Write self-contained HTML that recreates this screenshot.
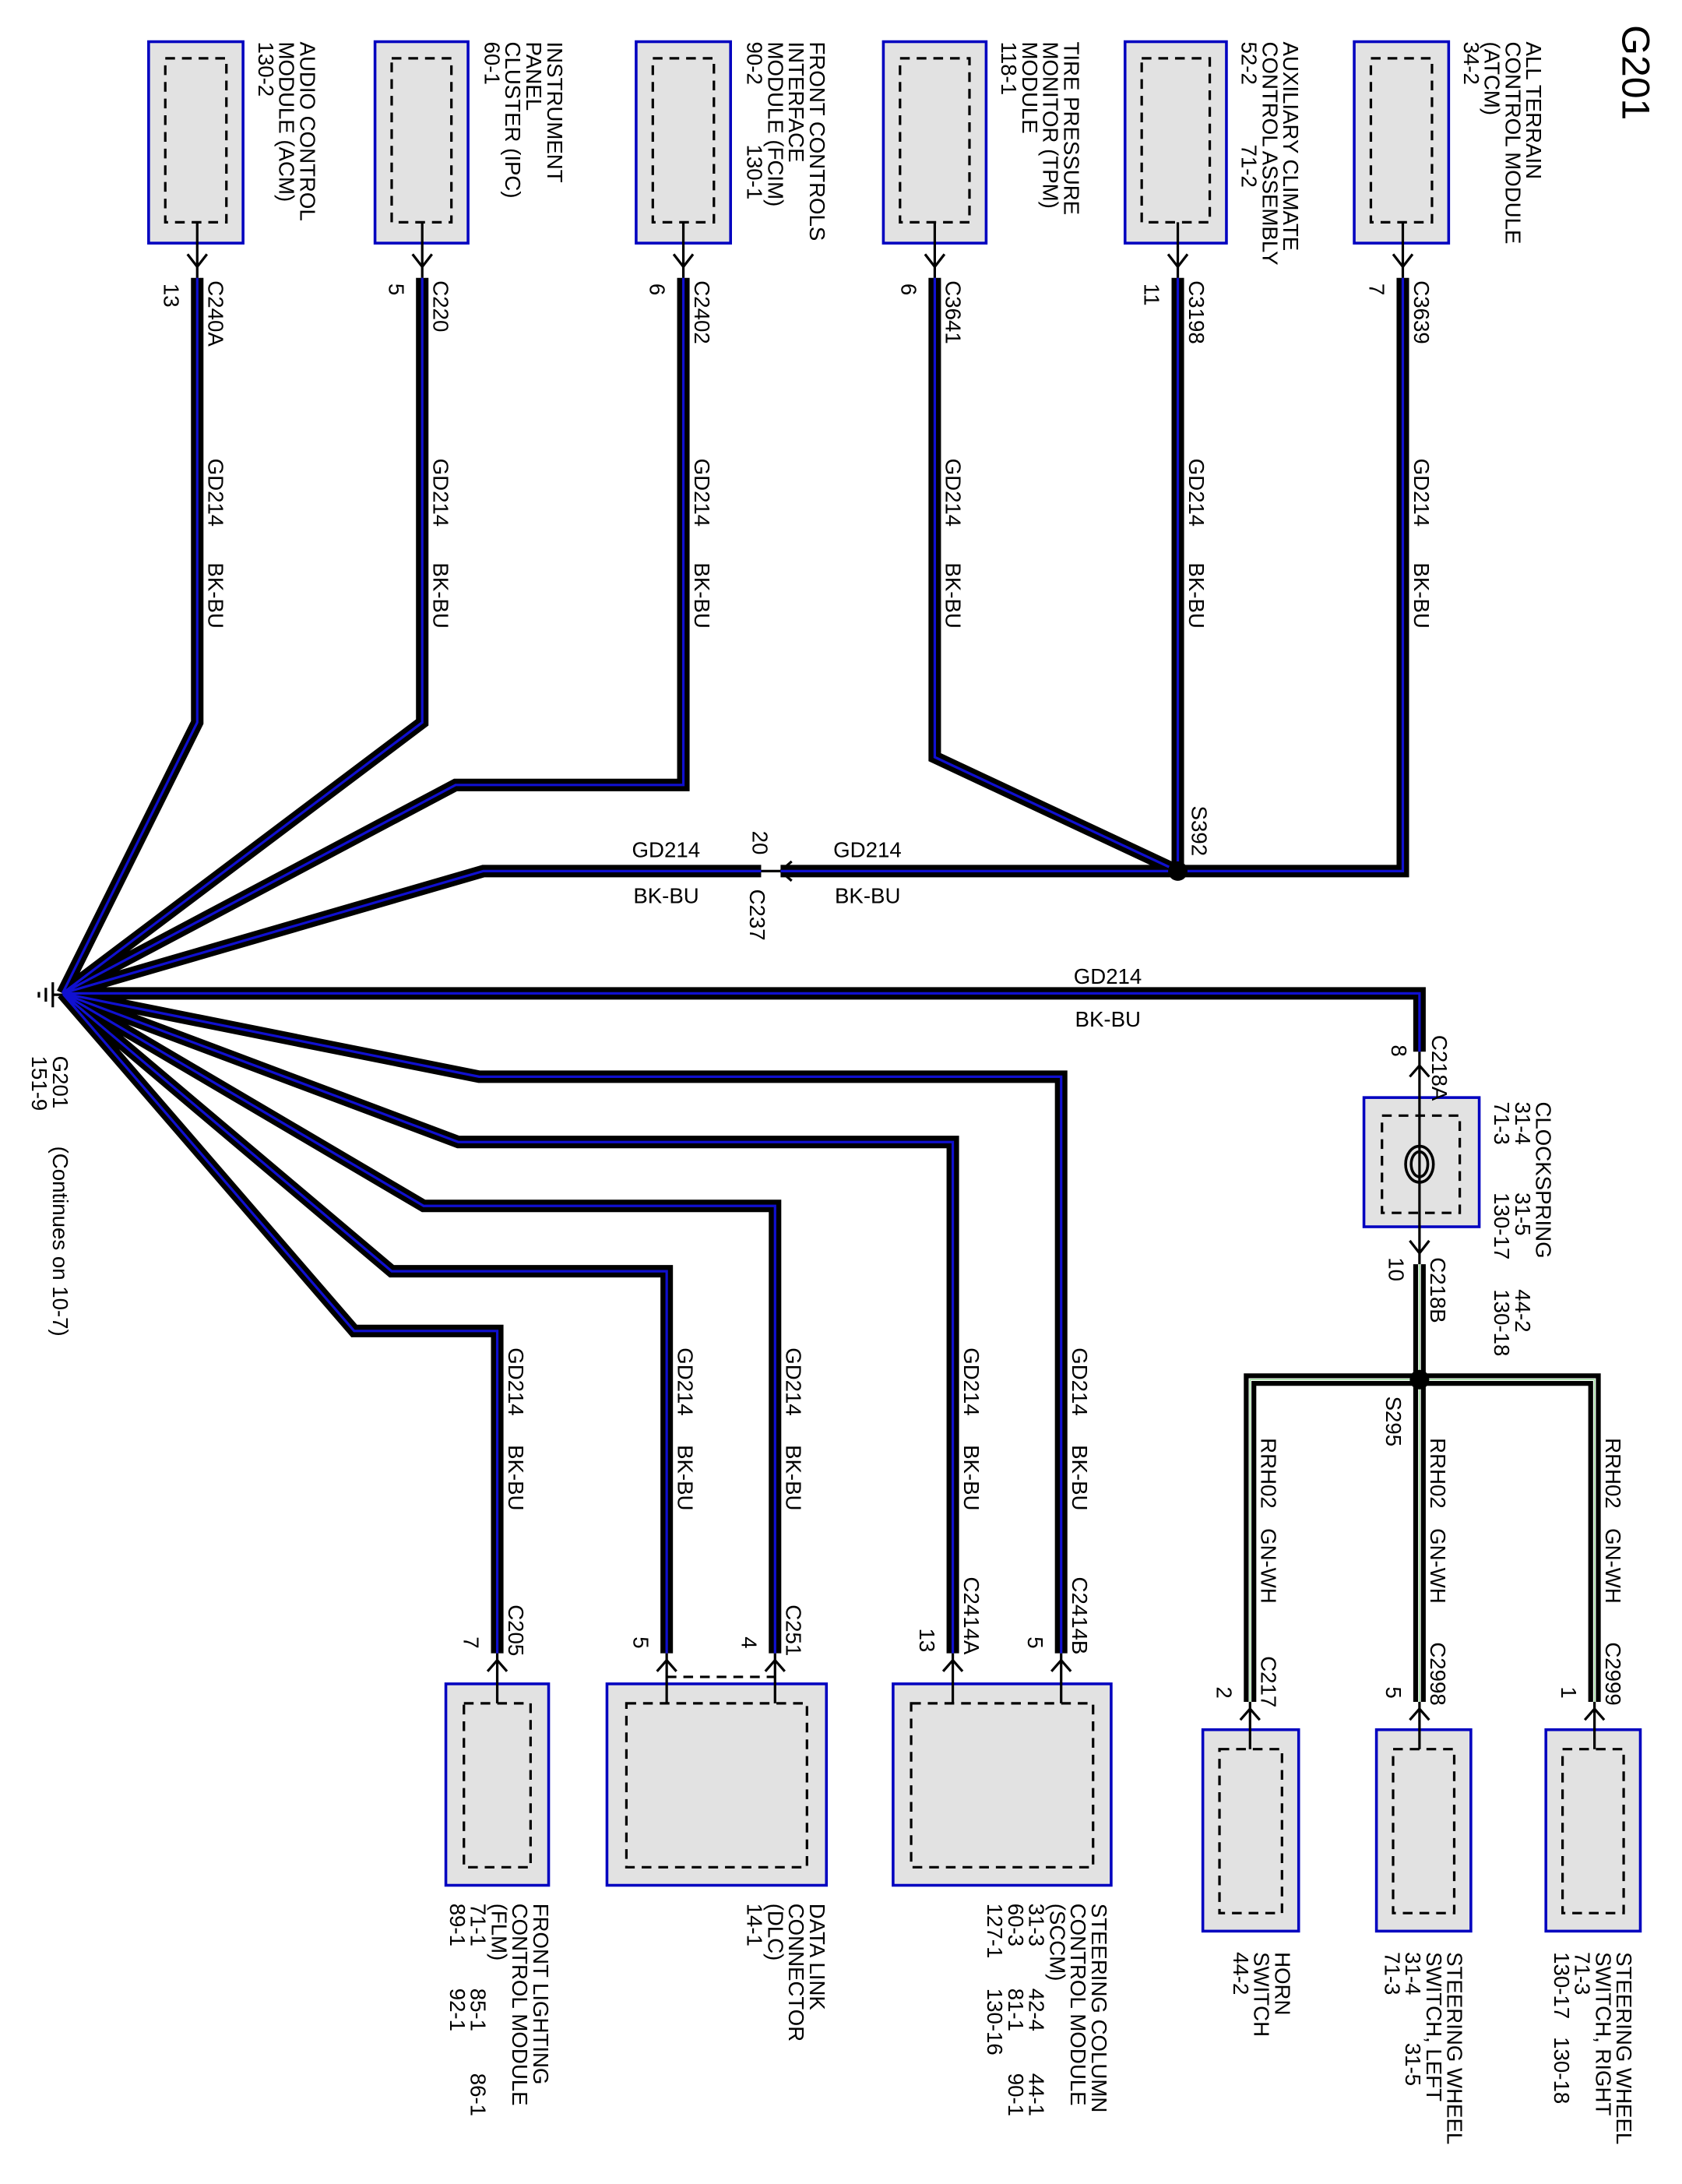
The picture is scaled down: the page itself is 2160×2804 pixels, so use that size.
<!DOCTYPE html>
<html><head><meta charset="utf-8"><style>
html,body{margin:0;padding:0;background:#fff}
svg{display:block}
text{font-family:"Liberation Sans",Arial,sans-serif;font-size:15.5px;fill:#000;white-space:pre}
.big{font-size:28px}
.box{fill:#e2e2e2;stroke:#0000c0;stroke-width:2}
.in{fill:none;stroke:#000;stroke-width:1.8;stroke-dasharray:7,5}
.wk{fill:none;stroke:#000;stroke-width:9;stroke-linejoin:miter}
.wb{fill:none;stroke:#1010d0;stroke-width:1.8}
.ww{fill:none;stroke:#fff;stroke-width:2}
.wg{fill:none;stroke:#9d9;stroke-width:0.8}
.th{fill:none;stroke:#000;stroke-width:1.8}
</style></head><body>
<svg width="2160" height="2804" viewBox="0 0 1211 1572" preserveAspectRatio="none" xmlns="http://www.w3.org/2000/svg" xml:space="preserve">
<rect class="box" x="975" y="30" width="68" height="145"/><rect class="in" x="987" y="42" width="44" height="118"/>
<rect class="box" x="810" y="30" width="73" height="145"/><rect class="in" x="822" y="42" width="49" height="118"/>
<rect class="box" x="636" y="30" width="74" height="145"/><rect class="in" x="648" y="42" width="50" height="118"/>
<rect class="box" x="458" y="30" width="68" height="145"/><rect class="in" x="470" y="42" width="44" height="118"/>
<rect class="box" x="270" y="30" width="67" height="145"/><rect class="in" x="282" y="42" width="43" height="118"/>
<rect class="box" x="107" y="30" width="68" height="145"/><rect class="in" x="119" y="42" width="44" height="118"/>
<rect class="box" x="982" y="790" width="83" height="93"/><rect class="in" x="995" y="803" width="56" height="70"/>
<ellipse cx="1022" cy="838" rx="10" ry="13" fill="none" stroke="#000" stroke-width="2"/>
<ellipse cx="1022" cy="838" rx="6" ry="9" fill="none" stroke="#000" stroke-width="2"/>
<rect class="box" x="643" y="1212" width="157" height="145"/><rect class="in" x="656" y="1226" width="131" height="118"/>
<rect class="box" x="437" y="1212" width="158" height="145"/><rect class="in" x="451" y="1226" width="130" height="118"/>
<rect class="box" x="321" y="1212" width="74" height="145"/><rect class="in" x="334" y="1226" width="48" height="118"/>
<rect class="box" x="1113" y="1245" width="68" height="145"/><rect class="in" x="1125" y="1259" width="44" height="118"/>
<rect class="box" x="991" y="1245" width="68" height="145"/><rect class="in" x="1003" y="1259" width="44" height="118"/>
<rect class="box" x="866" y="1245" width="69" height="145"/><rect class="in" x="878" y="1259" width="45" height="118"/>
<line x1="480" y1="1207" x2="558" y2="1207" class="in"/>

<g class="th">
<path d="M1010,160V200M848,160V200M673,160V200M492,160V200M304,160V200M142,160V200"/>
<path d="M1003,183l7,9l7-9M841,183l7,9l7-9M666,183l7,9l7-9M485,183l7,9l7-9M297,183l7,9l7-9M135,183l7,9l7-9"/>
<path d="M1022,757V910M1015,775l7-8l7,8M1015,893l7,9l7-9"/>
<path d="M764,1190V1226M686,1190V1226M558,1190V1226M480,1190V1226M358,1190V1226"/>
<path d="M757,1203l7-8l7,8M679,1203l7-8l7,8M551,1203l7-8l7,8M473,1203l7-8l7,8M351,1203l7-8l7,8"/>
<path d="M1148,1225V1259M1022,1225V1259M900,1225V1259"/>
<path d="M1141,1238l7-8l7,8M1015,1238l7-8l7,8M893,1238l7-8l7,8"/>
<path d="M570,620l-8,7l8,7M562,627H548"/>
</g>

<path class="wk" d="M1010,200V627H848M848,200V627M673,200V545L848,627M848,627H562M548,627H348L45,715M492,200V565H328L45,715M304,200V520L45,715M142,200V520L45,715M45,715H1022V757M764,1190V775H345L45,715M686,1190V822H330L45,715M558,1190V868H305L45,715M480,1190V915H282L45,715M358,1190V958H255L45,715"/>
<path class="wb" d="M1010,200V627H848M848,200V627M673,200V545L848,627M848,627H562M548,627H348L45,715M492,200V565H328L45,715M304,200V520L45,715M142,200V520L45,715M45,715H1022V757M764,1190V775H345L45,715M686,1190V822H330L45,715M558,1190V868H305L45,715M480,1190V915H282L45,715M358,1190V958H255L45,715"/>
<path class="wk" d="M1022,910V1225M900,1225V993H1148V1225"/>
<path class="ww" d="M1022,910V1225M900,1225V993H1148V1225"/>
<path class="wg" d="M1022,910V1225M900,1225V993H1148V1225"/>
<circle cx="848" cy="627" r="7" fill="#000"/>
<circle cx="1022" cy="993" r="7" fill="#000"/>
<g class="th"><path d="M45,716H38M38,707V725M33,711V721M28,714V718"/></g>

<g>
<text class="big" transform="translate(1168,18) rotate(90)">G201</text>
<text transform="translate(1099,30) rotate(90)">ALL TERRAIN</text>
<text transform="translate(1084,30) rotate(90)">CONTROL MODULE</text>
<text transform="translate(1069,30) rotate(90)">(ATCM)</text>
<text transform="translate(1054,30) rotate(90)">34-2</text>
<text transform="translate(924,30) rotate(90)">AUXILIARY CLIMATE</text>
<text transform="translate(909,30) rotate(90)">CONTROL ASSEMBLY</text>
<text transform="translate(894,30) rotate(90)">52-2          71-2</text>
<text transform="translate(766,30) rotate(90)">TIRE PRESSURE</text>
<text transform="translate(751,30) rotate(90)">MONITOR (TPM)</text>
<text transform="translate(736,30) rotate(90)">MODULE</text>
<text transform="translate(721,30) rotate(90)">118-1</text>
<text transform="translate(583,30) rotate(90)">FRONT CONTROLS</text>
<text transform="translate(568,30) rotate(90)">INTERFACE</text>
<text transform="translate(553,30) rotate(90)">MODULE (FCIM)</text>
<text transform="translate(538,30) rotate(90)">90-2          130-1</text>
<text transform="translate(394,30) rotate(90)">INSTRUMENT</text>
<text transform="translate(379,30) rotate(90)">PANEL</text>
<text transform="translate(364,30) rotate(90)">CLUSTER (IPC)</text>
<text transform="translate(349,30) rotate(90)">60-1</text>
<text transform="translate(216,30) rotate(90)">AUDIO CONTROL</text>
<text transform="translate(201,30) rotate(90)">MODULE (ACM)</text>
<text transform="translate(186,30) rotate(90)">130-2</text>

<text transform="translate(1018,202) rotate(90)">C3639</text><text transform="translate(986,204) rotate(90)">7</text>
<text transform="translate(856,202) rotate(90)">C3198</text><text transform="translate(824,204) rotate(90)">11</text>
<text transform="translate(681,202) rotate(90)">C3641</text><text transform="translate(649,204) rotate(90)">6</text>
<text transform="translate(500,202) rotate(90)">C2402</text><text transform="translate(468,204) rotate(90)">6</text>
<text transform="translate(312,202) rotate(90)">C220</text><text transform="translate(280,204) rotate(90)">5</text>
<text transform="translate(150,202) rotate(90)">C240A</text><text transform="translate(118,204) rotate(90)">13</text>
<text transform="translate(1018,330) rotate(90)">GD214</text><text transform="translate(1018,405) rotate(90)">BK-BU</text>
<text transform="translate(856,330) rotate(90)">GD214</text><text transform="translate(856,405) rotate(90)">BK-BU</text>
<text transform="translate(681,330) rotate(90)">GD214</text><text transform="translate(681,405) rotate(90)">BK-BU</text>
<text transform="translate(500,330) rotate(90)">GD214</text><text transform="translate(500,405) rotate(90)">BK-BU</text>
<text transform="translate(312,330) rotate(90)">GD214</text><text transform="translate(312,405) rotate(90)">BK-BU</text>
<text transform="translate(150,330) rotate(90)">GD214</text><text transform="translate(150,405) rotate(90)">BK-BU</text>
<text transform="translate(858,580) rotate(90)">S392</text>
<text transform="translate(540,640) rotate(90)">C237</text>
<text transform="translate(542,598) rotate(90)">20</text>

<text transform="translate(1031,745) rotate(90)">C218A</text><text transform="translate(1002,752) rotate(90)">8</text>
<text transform="translate(1106,793) rotate(90)">CLOCKSPRING</text>
<text transform="translate(1091,793) rotate(90)">31-4        31-5</text>
<text transform="translate(1076,793) rotate(90)">71-3        130-17</text>
<text transform="translate(1091,928) rotate(90)">44-2</text>
<text transform="translate(1076,928) rotate(90)">130-18</text>
<text transform="translate(1030,905) rotate(90)">C218B</text><text transform="translate(1000,905) rotate(90)">10</text>
<text transform="translate(998,1005) rotate(90)">S295</text>

<text transform="translate(1156,1035) rotate(90)">RRH02</text><text transform="translate(1156,1100) rotate(90)">GN-WH</text>
<text transform="translate(1030,1035) rotate(90)">RRH02</text><text transform="translate(1030,1100) rotate(90)">GN-WH</text>
<text transform="translate(908,1035) rotate(90)">RRH02</text><text transform="translate(908,1100) rotate(90)">GN-WH</text>
<text transform="translate(1156,1182) rotate(90)">C2999</text><text transform="translate(1124,1214) rotate(90)">1</text>
<text transform="translate(1030,1182) rotate(90)">C2998</text><text transform="translate(998,1214) rotate(90)">5</text>
<text transform="translate(908,1192) rotate(90)">C217</text><text transform="translate(876,1214) rotate(90)">2</text>

<text transform="translate(1164,1405) rotate(90)">STEERING WHEEL</text>
<text transform="translate(1149,1405) rotate(90)">SWITCH, RIGHT</text>
<text transform="translate(1134,1405) rotate(90)">71-3</text>
<text transform="translate(1119,1405) rotate(90)">130-17   130-18</text>
<text transform="translate(1042,1405) rotate(90)">STEERING WHEEL</text>
<text transform="translate(1027,1405) rotate(90)">SWITCH, LEFT</text>
<text transform="translate(1012,1405) rotate(90)">31-4        31-5</text>
<text transform="translate(997,1405) rotate(90)">71-3</text>
<text transform="translate(918,1405) rotate(90)">HORN</text>
<text transform="translate(903,1405) rotate(90)">SWITCH</text>
<text transform="translate(888,1405) rotate(90)">44-2</text>

<text transform="translate(772,970) rotate(90)">GD214</text><text transform="translate(772,1040) rotate(90)">BK-BU</text>
<text transform="translate(694,970) rotate(90)">GD214</text><text transform="translate(694,1040) rotate(90)">BK-BU</text>
<text transform="translate(566,970) rotate(90)">GD214</text><text transform="translate(566,1040) rotate(90)">BK-BU</text>
<text transform="translate(488,970) rotate(90)">GD214</text><text transform="translate(488,1040) rotate(90)">BK-BU</text>
<text transform="translate(366,970) rotate(90)">GD214</text><text transform="translate(366,1040) rotate(90)">BK-BU</text>
<text transform="translate(772,1135) rotate(90)">C2414B</text><text transform="translate(740,1178) rotate(90)">5</text>
<text transform="translate(694,1135) rotate(90)">C2414A</text><text transform="translate(662,1172) rotate(90)">13</text>
<text transform="translate(566,1155) rotate(90)">C251</text><text transform="translate(534,1178) rotate(90)">4</text>
<text transform="translate(456,1178) rotate(90)">5</text>
<text transform="translate(366,1155) rotate(90)">C205</text><text transform="translate(334,1178) rotate(90)">7</text>

<text transform="translate(786,1370) rotate(90)">STEERING COLUMN</text>
<text transform="translate(771,1370) rotate(90)">CONTROL MODULE</text>
<text transform="translate(756,1370) rotate(90)">(SCCM)</text>
<text transform="translate(741,1370) rotate(90)">31-3       42-4       44-1</text>
<text transform="translate(726,1370) rotate(90)">60-3       81-1       90-1</text>
<text transform="translate(711,1370) rotate(90)">127-1     130-16</text>
<text transform="translate(583,1370) rotate(90)">DATA LINK</text>
<text transform="translate(568,1370) rotate(90)">CONNECTOR</text>
<text transform="translate(553,1370) rotate(90)">(DLC)</text>
<text transform="translate(538,1370) rotate(90)">14-1</text>
<text transform="translate(384,1370) rotate(90)">FRONT LIGHTING</text>
<text transform="translate(369,1370) rotate(90)">CONTROL MODULE</text>
<text transform="translate(354,1370) rotate(90)">(FLM)</text>
<text transform="translate(339,1370) rotate(90)">71-1       85-1       86-1</text>
<text transform="translate(324,1370) rotate(90)">89-1       92-1</text>

<text transform="translate(38,760) rotate(90)">G201</text>
<text transform="translate(23,760) rotate(90)">151-9</text>
<text transform="translate(38,825) rotate(90)">(Continues on 10-7)</text>
</g>

<text x="455" y="617">GD214</text><text x="456" y="650">BK-BU</text>
<text x="600" y="617">GD214</text><text x="601" y="650">BK-BU</text>
<text x="773" y="708">GD214</text><text x="774" y="739">BK-BU</text>
</svg>
</body></html>
